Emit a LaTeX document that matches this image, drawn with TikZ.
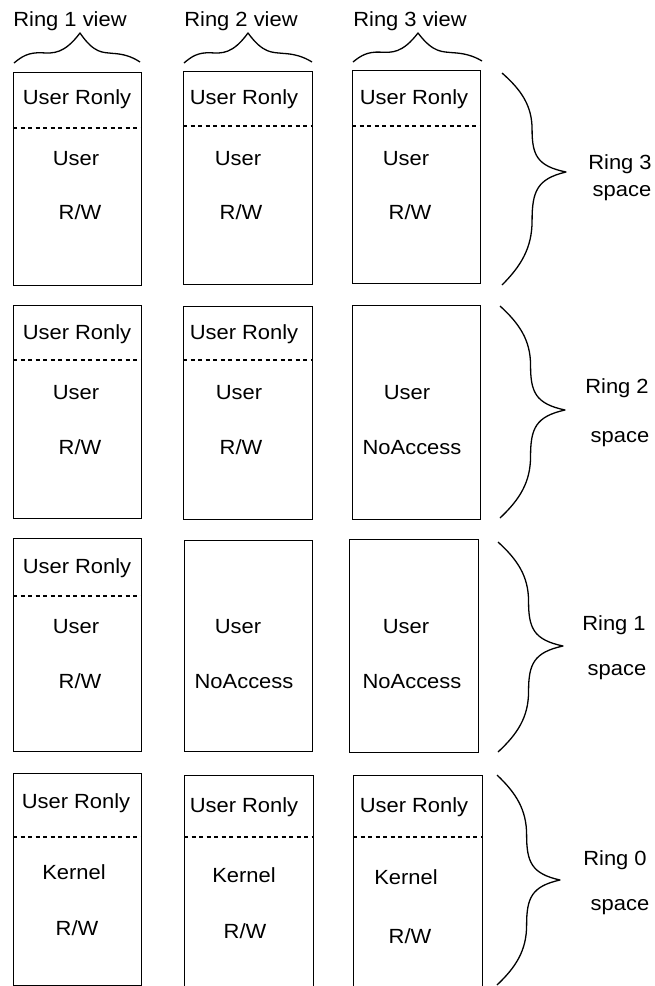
\documentclass[tikz,border=0pt]{standalone}
\usepackage{fontspec}
\setmainfont{Liberation Sans}[FakeStretch=1.07]
\newcommand\boxfont{\fontsize{20.5}{24}\selectfont}
\newcommand\ringbrace[5]{% x0, ytop, ybot, xtip, ytip
  \pgfmathsetmacro\bw{#4-#1}%
  \pgfmathsetmacro\bh{#5-#2}%
  \pgfmathsetmacro\bl{#3-#5}%
  \draw[bracel] (#1,#2)
    .. controls ({#1+0.3*\bw},{#2+0.17*\bh}) and ({#1+0.47*\bw},{#2+0.33*\bh}) .. ({#1+0.47*\bw},{#2+0.57*\bh})
    .. controls ({#1+0.47*\bw},{#2+0.83*\bh}) and ({#1+0.55*\bw},{#2+0.94*\bh}) .. (#4,#5)
    .. controls ({#1+0.55*\bw},{#5+0.06*\bl}) and ({#1+0.47*\bw},{#5+0.17*\bl}) .. ({#1+0.47*\bw},{#5+0.43*\bl})
    .. controls ({#1+0.47*\bw},{#5+0.67*\bl}) and ({#1+0.3*\bw},{#5+0.83*\bl}) .. (#1,#3);
}
\newcommand\viewbrace[5]{% xleft, yleft, xtip, ytip, xright (right end same y+1)
  \pgfmathsetmacro\ba{#3-#1}%
  \pgfmathsetmacro\bb{#5-#3}%
  \pgfmathsetmacro\bh{#2-#4}%
  \draw[bracel] (#1,#2)
    .. controls ({#1+0.12*\ba},{#2-0.22*\bh}) and ({#1+0.22*\ba},{#2-0.36*\bh}) .. ({#1+0.42*\ba},{#2-0.34*\bh})
    .. controls ({#1+0.6*\ba},{#2-0.32*\bh}) and ({#1+0.76*\ba},{#2-0.3*\bh}) .. (#3,#4)
    .. controls ({#3+0.24*\bb},{#2-0.3*\bh}) and ({#3+0.38*\bb},{#2-0.36*\bh}) .. ({#3+0.55*\bb},{#2-0.32*\bh})
    .. controls ({#3+0.72*\bb},{#2-0.3*\bh}) and ({#3+0.86*\bb},{#2-0.22*\bh}) .. (#5,{#2-1});
}
\begin{document}
\begin{tikzpicture}[x=1pt,y=-1pt,
  box/.style={draw, line width=1.4pt, anchor=north west, inner sep=0pt},
  lbl/.style={anchor=base, inner sep=0pt, font=\boxfont},
  sepline/.style={line width=1.1pt, dash pattern=on 4pt off 3.5pt},
  bracel/.style={line width=1.3pt, line join=round}]
\useasboundingbox (0,0) rectangle (655,986);
\clip (0,0) rectangle (655,986);
\fill[white] (0,0) rectangle (655,986);

% view labels and braces
\node[lbl] (v1) at (70,26) {Ring 1 view};
\node[lbl] (v2) at (241,26) {Ring 2 view};
\node[lbl] (v3) at (410,26) {Ring 3 view};
\viewbrace{14}{63}{80}{33}{140}
\viewbrace{184}{63}{248}{33}{312}
\viewbrace{353}{62}{418}{33}{482}

% Row 1 (Ring 3 space)
\node[box, minimum width=128pt, minimum height=213pt] (b11) at (13,72) {};
\node[box, minimum width=129pt, minimum height=213pt] (b12) at (183,71) {};
\node[box, minimum width=128pt, minimum height=213pt] (b13) at (352,70) {};
\draw[sepline] (b11.west |- 0,128) -- (b11.east |- 0,128);
\draw[sepline] (b12.west |- 0,126) -- (b12.east |- 0,126);
\draw[sepline] (b13.west |- 0,126) -- (b13.east |- 0,126);
\node[lbl] (t11a) at (77,104) {User Ronly};
\node[lbl] (t11b) at (76,165) {User};
\node[lbl] (t11c) at (80,219) {R/W};
\node[lbl] (t12a) at (244,104) {User Ronly};
\node[lbl] (t12b) at (238,165) {User};
\node[lbl] (t12c) at (241,219) {R/W};
\node[lbl] (t13a) at (414,104) {User Ronly};
\node[lbl] (t13b) at (406,165) {User};
\node[lbl] (t13c) at (410,219) {R/W};
\ringbrace{502}{73}{285}{566}{172}
\node[lbl] (r3a) at (620,169) {Ring 3};
\node[lbl] (r3b) at (622,196) {space};

% Row 2 (Ring 2 space)
\node[box, minimum width=128pt, minimum height=213pt] (b21) at (13,305) {};
\node[box, minimum width=129pt, minimum height=213pt] (b22) at (183,306) {};
\node[box, minimum width=128pt, minimum height=214pt] (b23) at (352,305) {};
\draw[sepline] (b21.west |- 0,360) -- (b21.east |- 0,360);
\draw[sepline] (b22.west |- 0,360) -- (b22.east |- 0,360);
\node[lbl] (t21a) at (77,339) {User Ronly};
\node[lbl] (t21b) at (76,399) {User};
\node[lbl] (t21c) at (80,454) {R/W};
\node[lbl] (t22a) at (244,339) {User Ronly};
\node[lbl] (t22b) at (239,399) {User};
\node[lbl] (t22c) at (241,454) {R/W};
\node[lbl] (t23b) at (407,399) {User};
\node[lbl] (t23c) at (412,454) {NoAccess};
\ringbrace{500}{306}{518}{565}{410}
\node[lbl] (r2a) at (617,393) {Ring 2};
\node[lbl] (r2b) at (620,442) {space};

% Row 3 (Ring 1 space)
\node[box, minimum width=128pt, minimum height=213pt] (b31) at (13,538) {};
\node[box, minimum width=128pt, minimum height=211pt] (b32) at (184,540) {};
\node[box, minimum width=129pt, minimum height=213pt] (b33) at (349,539) {};
\draw[sepline] (b31.west |- 0,596) -- (b31.east |- 0,596);
\node[lbl] (t31a) at (77,573) {User Ronly};
\node[lbl] (t31b) at (76,633) {User};
\node[lbl] (t31c) at (80,688) {R/W};
\node[lbl] (t32b) at (238,633) {User};
\node[lbl] (t32c) at (244,688) {NoAccess};
\node[lbl] (t33b) at (406,633) {User};
\node[lbl] (t33c) at (412,688) {NoAccess};
\ringbrace{498}{542}{752}{563}{646}
\node[lbl] (r1a) at (614,630) {Ring 1};
\node[lbl] (r1b) at (617,675) {space};

% Row 4 (Ring 0 space)
\node[box, minimum width=128pt, minimum height=212pt] (b41) at (13,773) {};
\node[box, minimum width=129pt, minimum height=240pt] (b42) at (184,775) {};
\node[box, minimum width=129pt, minimum height=240pt] (b43) at (353,775) {};
\draw[sepline] (b41.west |- 0,837) -- (b41.east |- 0,837);
\draw[sepline] (b42.west |- 0,837) -- (b42.east |- 0,837);
\draw[sepline] (b43.west |- 0,837) -- (b43.east |- 0,837);
\node[lbl] (t41a) at (76,808) {User Ronly};
\node[lbl] (t41b) at (74,879) {Kernel};
\node[lbl] (t41c) at (77,935) {R/W};
\node[lbl] (t42a) at (244,812) {User Ronly};
\node[lbl] (t42b) at (244,882) {Kernel};
\node[lbl] (t42c) at (245,938) {R/W};
\node[lbl] (t43a) at (414,812) {User Ronly};
\node[lbl] (t43b) at (406,884) {Kernel};
\node[lbl] (t43c) at (410,943) {R/W};
\ringbrace{497}{775}{985}{560}{880}
\node[lbl] (r0a) at (615,865) {Ring 0};
\node[lbl] (r0b) at (620,910) {space};
\end{tikzpicture}
\end{document}
